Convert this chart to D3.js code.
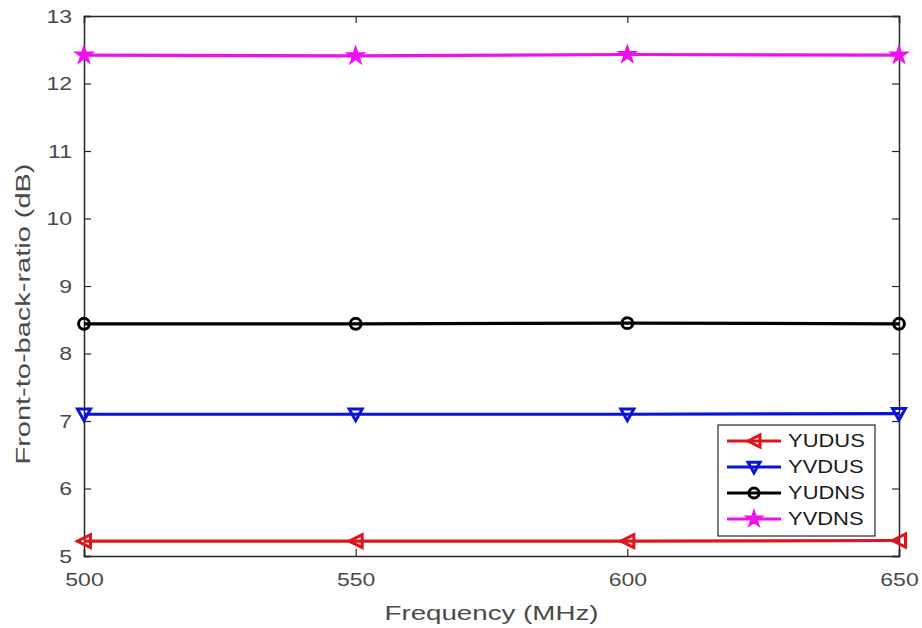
<!DOCTYPE html>
<html>
<head>
<meta charset="utf-8">
<script src="https://cdn.jsdelivr.net/npm/d3@7"></script>
<style>
  body { margin: 0; background: #fff; }
  text { font-family: "Liberation Sans", Arial, sans-serif; }
</style>
</head>
<body>
<div id="chart"></div>
<script>
(function (d3) {
    'use strict';

    var frequencies = [500, 550, 600, 650];
    var yudus = [5.22, 5.22, 5.22, 5.23];
    var yvdus = [7.10, 7.10, 7.10, 7.11];
    var yudns = [8.44, 8.44, 8.45, 8.44];
    var yvdns = [12.42, 12.41, 12.43, 12.42];
    var xTicks = [500, 550, 600, 650];
    var yTicks = [5, 6, 7, 8, 9, 10, 11, 12, 13];

    var series = [
        { name: 'YUDUS', values: yudus, color: '#e0141b', marker: 'triLeft' },
        { name: 'YVDUS', values: yvdus, color: '#0a14d8', marker: 'triDown' },
        { name: 'YUDNS', values: yudns, color: '#000000', marker: 'circle' },
        { name: 'YVDNS', values: yvdns, color: '#ee10ee', marker: 'star' }
    ];

    var width = 922, height = 628,
        left = 84, right = 899, top = 16, bottom = 556;

    var svg = d3.select('#chart').append('svg')
        .attr('width', width)
        .attr('height', height);

    var x = d3.scaleLinear().domain([500, 650]).range([left, right]);
    var y = d3.scaleLinear().domain([5, 13]).range([bottom, top]);

    var tickLen = 7, axisColor = '#262626', labelColor = '#4a4a4a';
    // the original picture is stretched sideways, so the text is too
    var stretch = 1.28;

    // axes with inward ticks on all four sides
    var xAxis = svg.append('g').attr('transform', 'translate(0,' + bottom + ')')
        .call(d3.axisBottom(x).tickValues(xTicks).tickSize(-tickLen));
    var xTop = svg.append('g').attr('transform', 'translate(0,' + top + ')')
        .call(d3.axisTop(x).tickValues(xTicks).tickSize(-tickLen).tickFormat(''));
    var yAxis = svg.append('g').attr('transform', 'translate(' + left + ',0)')
        .call(d3.axisLeft(y).tickValues(yTicks).tickSize(-tickLen));
    var yRight = svg.append('g').attr('transform', 'translate(' + right + ',0)')
        .call(d3.axisRight(y).tickValues(yTicks).tickSize(-tickLen).tickFormat(''));

    [xAxis, xTop, yAxis, yRight].forEach(function (g) {
        g.select('.domain').attr('stroke', axisColor).attr('stroke-width', 1.5);
        g.selectAll('.tick line').attr('stroke', axisColor).attr('stroke-width', 1.2);
        g.selectAll('.tick text')
            .attr('fill', labelColor)
            .style('font-size', '18px')
            .style('font-family', '"Liberation Sans", Arial, sans-serif');
    });
    xAxis.selectAll('.tick text')
        .attr('y', 0).attr('dy', '0.36em')
        .attr('transform', 'translate(0,24) scale(' + stretch + ',1)');
    yAxis.selectAll('.tick text')
        .attr('x', 0).attr('dy', '0.36em')
        .attr('transform', 'translate(-12,0) scale(' + stretch + ',1)');

    svg.append('text')
        .attr('transform', 'translate(' + (left + right) / 2 + ',612) scale(1.32,1)')
        .attr('dy', '0.36em')
        .attr('text-anchor', 'middle')
        .attr('fill', labelColor)
        .style('font-size', '21px')
        .text('Frequency (MHz)');

    svg.append('text')
        .attr('transform', 'translate(22,314) rotate(-90) scale(1.38,1)')
        .attr('dy', '0.36em')
        .attr('text-anchor', 'middle')
        .attr('fill', labelColor)
        .style('font-size', '21px')
        .text('Front-to-back-ratio (dB)');

    var markerPath = function (type, s) {
        var h = s / 2;
        if (type === 'triLeft') {
            return 'M' + (-h) + ',0L' + h + ',' + (-h) + 'L' + h + ',' + h + 'Z';
        }
        if (type === 'triDown') {
            return 'M' + (-h) + ',' + (-h * 0.8) + 'L' + h + ',' + (-h * 0.8) + 'L0,' + h + 'Z';
        }
        if (type === 'circle') {
            return d3.symbol().type(d3.symbolCircle).size(s * s * 0.55)();
        }
        return d3.symbol().type(d3.symbolStar).size(s * s * 0.3)();
    };

    var line = d3.line()
        .x(function (d, i) { return x(frequencies[i]); })
        .y(function (d) { return y(d); });

    series.forEach(function (s) {
        var g = svg.append('g');
        g.append('path')
            .datum(s.values)
            .attr('fill', 'none')
            .attr('stroke', s.color)
            .attr('stroke-width', 3.2)
            .attr('d', line);
        g.selectAll('path.mk')
            .data(s.values)
            .enter().append('path')
            .attr('class', 'mk')
            .attr('transform', function (d, i) {
                return 'translate(' + x(frequencies[i]) + ',' + y(d) + ')';
            })
            .attr('d', markerPath(s.marker, 13))
            .attr('fill', s.marker === 'star' ? s.color : 'none')
            .attr('stroke', s.color)
            .attr('stroke-width', 3);
    });

    // legend
    var lx = 718, ly = 425, lw = 157, lh = 111;
    var legend = svg.append('g');
    legend.append('rect')
        .attr('x', lx).attr('y', ly)
        .attr('width', lw).attr('height', lh)
        .attr('fill', '#fff')
        .attr('stroke', axisColor)
        .attr('stroke-width', 1.2);

    var items = legend.selectAll('g.item')
        .data(series)
        .enter().append('g')
        .attr('class', 'item')
        .attr('transform', function (d, i) { return 'translate(' + lx + ',' + (ly + 16 + i * 26) + ')'; });

    items.append('line')
        .attr('x1', 9).attr('x2', 63)
        .attr('stroke', function (d) { return d.color; })
        .attr('stroke-width', 3.2);
    items.append('path')
        .attr('transform', 'translate(36,0)')
        .attr('d', function (d) { return markerPath(d.marker, 12); })
        .attr('fill', function (d) { return d.marker === 'star' ? d.color : 'none'; })
        .attr('stroke', function (d) { return d.color; })
        .attr('stroke-width', 3);
    items.append('text')
        .attr('transform', 'translate(70,0) scale(1.22,1)')
        .attr('dy', '0.36em')
        .attr('fill', '#1a1a1a')
        .style('font-size', '18px')
        .text(function (d) { return d.name; });
})(d3);
</script>
</body>
</html>
